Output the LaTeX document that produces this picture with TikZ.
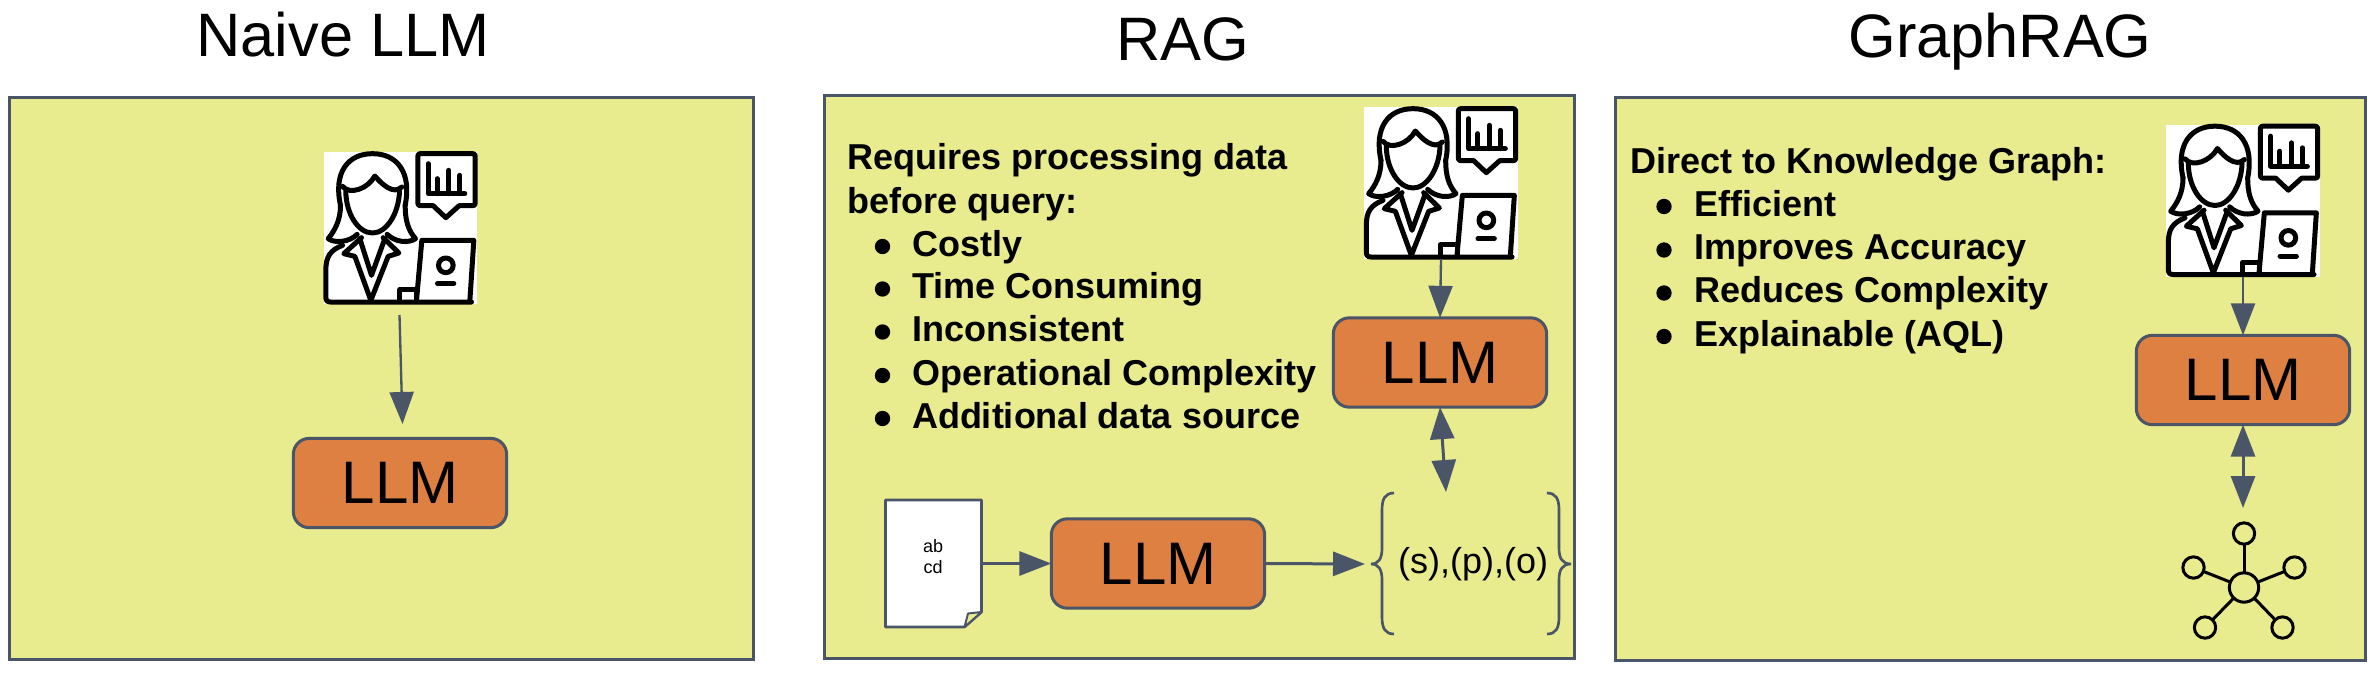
\documentclass[tikz,border=0pt]{standalone}
\usepackage{fontspec}
\setmainfont{Liberation Sans}
\usetikzlibrary{arrows.meta}
\tikzset{every picture/.style={line width=0.75pt}}
\definecolor{panelyellow}{RGB}{233,235,143}
\definecolor{llmorange}{RGB}{221,128,66}
\definecolor{slateline}{RGB}{74,85,104}
\tikzset{
  panelbox/.style={draw=slateline,fill=panelyellow,line width=2.25pt,minimum height=422pt,inner sep=0pt,outer sep=0pt},
  llmbox/.style={draw=slateline,fill=llmorange,line width=2.25pt,rounded corners=12pt,minimum width=160pt,minimum height=67pt,inner sep=0pt,outer sep=0pt,font=\fontsize{45}{54}\selectfont},
  titletext/.style={anchor=base,inner sep=0pt,font=\fontsize{46}{55}\selectfont},
  listtext/.style={anchor=base west,inner sep=0pt,font=\fontsize{27}{32}\selectfont\bfseries},
  listdot/.style={circle,fill=black,minimum size=11.5pt,inner sep=0pt},
  iconbox/.style={fill=white,minimum width=115pt,minimum height=114pt,inner sep=0pt,outer sep=0pt},
  flow/.style={draw=slateline,line width=2.25pt,-{Triangle[length=24pt,width=18pt]}},
  flowboth/.style={draw=slateline,line width=2.25pt,{Triangle[length=24pt,width=18pt]}-{Triangle[length=24pt,width=18pt]}},
  curlyline/.style={draw=slateline,line width=2pt},
  hubnode/.style={draw=black,circle,line width=2.25pt,minimum size=22pt,inner sep=0pt,outer sep=0pt},
  leafnode/.style={draw=black,circle,line width=2.25pt,minimum size=16pt,inner sep=0pt,outer sep=0pt},
  analyst/.pic={
    \begin{scope}[shift={(-72,-65)},draw=black,line width=3.75pt,line join=round,line cap=round]
    % hair
    \draw (122,225) .. controls (100,125) and (145,70) .. (218,70) .. controls (291,70) and (336,125) .. (316,225);
    \draw (122,225) .. controls (122,270) and (105,300) .. (85,325) .. controls (105,340) and (150,335) .. (172,312);
    \draw (316,225) .. controls (316,270) and (325,300) .. (347,325) .. controls (325,340) and (285,335) .. (262,312);
    % face
    \draw (138,182) .. controls (138,250) and (175,308) .. (218,308) .. controls (260,308) and (297,250) .. (299,182);
    \draw (128,168) .. controls (150,195) and (205,175) .. (225,137) .. controls (245,160) and (280,195) .. (306,170);
    % body
    \draw (128,345) .. controls (90,360) and (78,380) .. (78,420) -- (78,500) .. controls (78,510) and (82,515) .. (92,515) -- (515,515);
    \draw (185,322) -- (132,370) -- (165,378) -- (213,510) -- (265,378) -- (297,368) -- (250,322);
    \draw (180,325) -- (215,435) -- (255,325);
    \draw (300,512) -- (300,478) -- (350,478) -- (350,512);
    % bubble
    \draw (362,70) -- (518,70) .. controls (524,70) and (526,72) .. (526,78) -- (526,218) .. controls (526,224) and (524,226) .. (518,226) -- (478,226) -- (438,262) -- (400,226) -- (362,226) .. controls (356,226) and (354,224) .. (354,218) -- (354,78) .. controls (354,72) and (356,70) .. (362,70) -- cycle;
    \draw (385,100) -- (385,190) -- (495,190);
    \draw (412,145) -- (412,190);
    \draw (447,120) -- (447,190);
    \draw (480,135) -- (480,190);
    % laptop
    \draw (350,510) -- (366,330) -- (522,330) -- (510,512);
    \draw (438,405) circle (22);
    \draw (413,460) -- (462,460);
    \end{scope}
  }
}

\begin{document}
\begin{tikzpicture}[x=0.75pt,y=0.75pt,yscale=-1,xscale=1]
\useasboundingbox (0,0) rectangle (2368,672);

%Shape: Rectangle panels
\node (panelNaive) [panelbox,minimum width=558pt] at (381,378.5) {};
\node (panelRag) [panelbox,minimum width=562pt] at (1199.5,377) {};
\node (panelGraph) [panelbox,minimum width=562.5pt] at (1990,379) {};

% Text Node titles
\node (titleNaive) [titletext] at (343,56) {Naive LLM};
\node (titleRag) [titletext] at (1183,60) {RAG};
\node (titleGraph) [titletext] at (2000,57) {GraphRAG};

% user icons
\node (iconA) [iconbox] at (400.5,228) {};
\pic [xscale=1/3,yscale=-1/3] at (iconA.north west) {analyst};
\node (iconB) [iconbox] at (1441,183) {};
\pic [xscale=1/3,yscale=-1/3] at (iconB.north west) {analyst};
\node (iconC) [iconbox] at (2243,200.5) {};
\pic [xscale=1/3,yscale=-1/3] at (iconC.north west) {analyst};

% LLM boxes
\node (llmA) [llmbox] at (400,483) {LLM};
\node (llmB) [llmbox] at (1440,362.5) {LLM};
\node (llmC) [llmbox] at (2243,380) {LLM};
\node (llmD) [llmbox] at (1158,563.5) {LLM};

% Text Node RAG list
\node (ragHead) [listtext] at (847,169.5) {Requires processing data};
\node (ragHeadTwo) [listtext] at (847,213) {before query:};
\node (ragDotA) [listdot] at (882.5,246.5) {};
\node (ragItemA) [listtext] at (911.5,256) {Costly};
\node (ragDotB) [listdot] at (882.5,289) {};
\node (ragItemB) [listtext] at (911.5,298.5) {Time Consuming};
\node (ragDotC) [listdot] at (882.5,332) {};
\node (ragItemC) [listtext] at (911.5,341.5) {Inconsistent};
\node (ragDotD) [listdot] at (882.5,375.5) {};
\node (ragItemD) [listtext] at (911.5,385) {Operational Complexity};
\node (ragDotE) [listdot] at (882.5,418.5) {};
\node (ragItemE) [listtext] at (911.5,428) {Additional data source};

% Text Node GraphRAG list
\node (graphHead) [listtext] at (1630,173) {Direct to Knowledge Graph:};
\node (graphDotA) [listdot] at (1664,206.5) {};
\node (graphItemA) [listtext] at (1693.5,216) {Efficient};
\node (graphDotB) [listdot] at (1664,250) {};
\node (graphItemB) [listtext] at (1693.5,259.5) {Improves Accuracy};
\node (graphDotC) [listdot] at (1664,293) {};
\node (graphItemC) [listtext] at (1693.5,302.5) {Reduces Complexity};
\node (graphDotD) [listdot] at (1664,336.5) {};
\node (graphItemD) [listtext] at (1693.5,346) {Explainable (AQL)};

%Shape: folded page
\node (page) [minimum width=72pt,minimum height=95pt,inner sep=0pt,outer sep=0pt] at (933.5,563.5) {};
\draw [draw=slateline,fill=white,line width=2pt,line join=round] (885.5,500) -- (981.5,500) -- (981.5,612) -- (964.5,627) -- (885.5,627) -- cycle;
\draw [draw=slateline,fill=panelyellow,line width=1.5pt,line join=round] (964.5,627) -- (968,613.5) -- (981.5,612) -- cycle;
\node (pageText) [inner sep=0pt,align=center,font=\fontsize{13.5}{15.75}\selectfont] at (933,557) {ab\\cd};

%Shape: braces
\draw [curlyline] (1394,493) .. controls (1385,493) and (1382,499) .. (1382,510) -- (1382,548) .. controls (1382,558) and (1379,564) .. (1371,564) .. controls (1379,564) and (1382,570) .. (1382,580) -- (1382,617) .. controls (1382,628) and (1385,634) .. (1394,634);
\draw [curlyline] (1547,493) .. controls (1556,493) and (1559,499) .. (1559,510) -- (1559,548) .. controls (1559,558) and (1562,564) .. (1571,564) .. controls (1562,564) and (1559,570) .. (1559,580) -- (1559,617) .. controls (1559,628) and (1556,634) .. (1547,634);
\node (triple) [inner sep=0pt,font=\fontsize{27}{32}\selectfont] at (1473,564) {(s),(p),(o)};

% graph icon
\node (hub) [hubnode] at (2244,587.5) {};
\node (leafTop) [leafnode] at (2244,533.5) {};
\node (leafLeft) [leafnode] at (2193.5,567.5) {};
\node (leafRight) [leafnode] at (2294.5,567.5) {};
\node (leafLow) [leafnode] at (2205,627.5) {};
\node (leafHigh) [leafnode] at (2282.5,627.5) {};
\draw [line width=2.25pt] (hub) -- (leafTop);
\draw [line width=2.25pt] (hub) -- (leafLeft);
\draw [line width=2.25pt] (hub) -- (leafRight);
\draw [line width=2.25pt] (hub) -- (leafLow);
\draw [line width=2.25pt] (hub) -- (leafHigh);

% free arrow ends
\coordinate (userA) at (399.5,315);
\coordinate (tipA) at (402.5,424);
\coordinate (tipB) at (1446,492);
\coordinate (tipC) at (2243,508);
\coordinate (tipD) at (1365,564);

% arrows
\draw [flow,line width=1.75pt] (userA) -- (tipA);
\draw [flow,line width=1.75pt] (iconB.south) -- (llmB.north);
\draw [flow,line width=1.75pt] (iconC.south) -- (llmC.north);
\draw [flowboth] (llmB.south) -- (tipB);
\draw [flowboth] (llmC.south) -- (tipC);
\draw [flow] (page.east) -- (llmD.west);
\draw [flow] (llmD.east) -- (tipD);

\end{tikzpicture}
\end{document}
